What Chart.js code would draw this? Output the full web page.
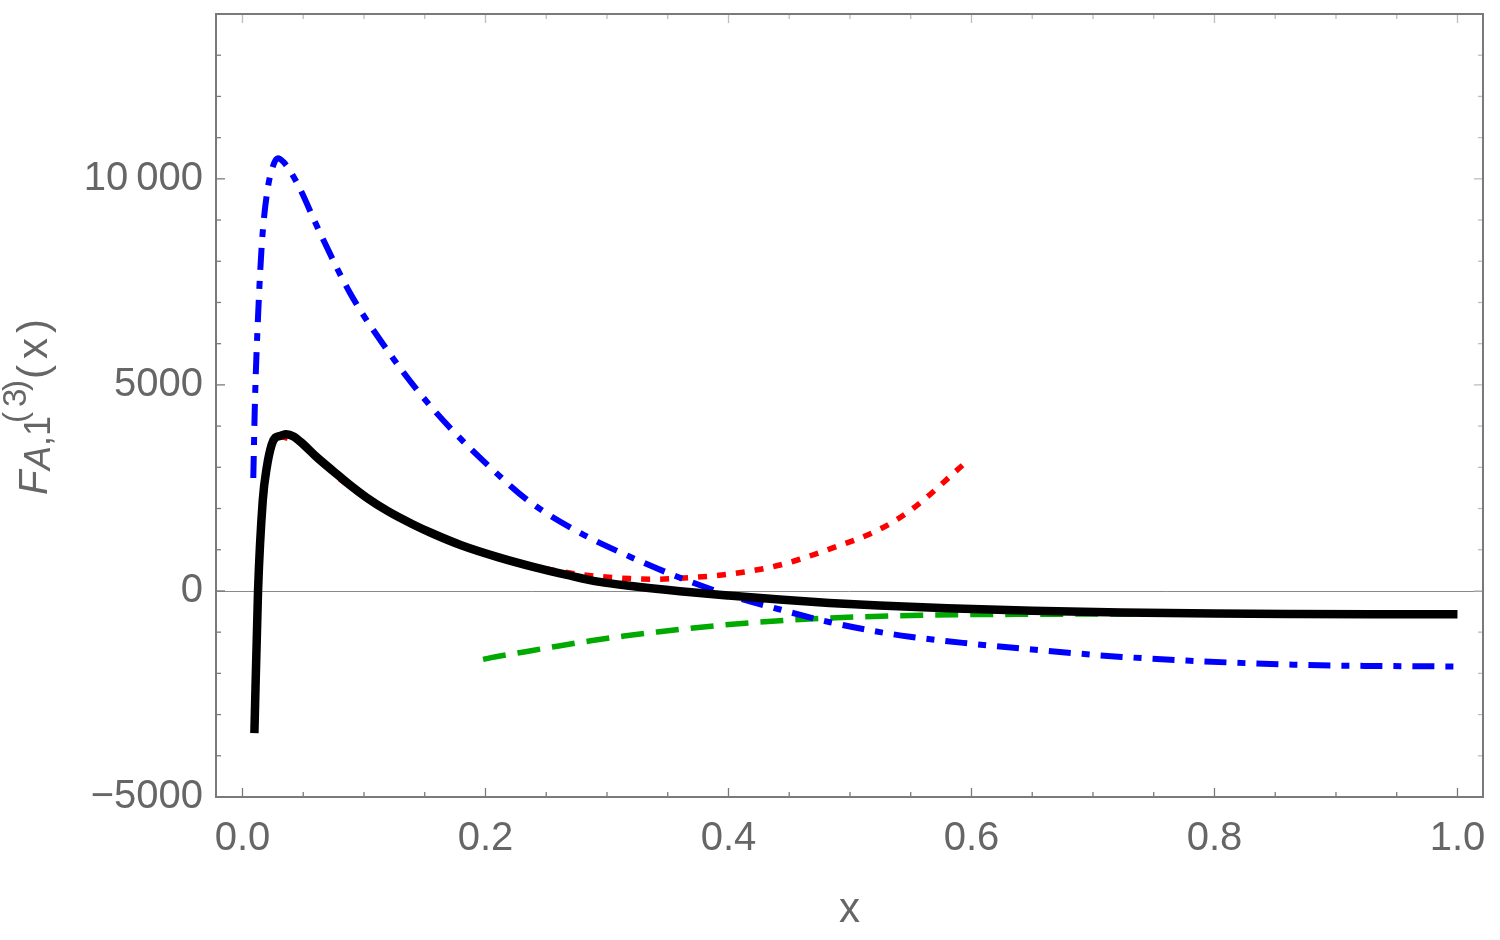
<!DOCTYPE html>
<html><head><meta charset="utf-8">
<script src="https://cdn.jsdelivr.net/npm/chart.js@4.4.1/dist/chart.umd.min.js"></script>
<style>html,body{margin:0;padding:0;background:#fff;}canvas{display:block;}</style>
</head><body>
<canvas id="c" width="1500" height="940"></canvas>
<script>
// ---- tick labels ----
const xTickValues = [0, 0.2, 0.4, 0.6, 0.8, 1.0];
const xTickLabels = ['0.0', '0.2', '0.4', '0.6', '0.8', '1.0'];
const yTickValues = [-5000, 0, 5000, 10000];
const yTickLabels = ['\u22125000', '0', '5000', '10\u2009000'];

// ---- series: black solid ----
const blackX = [0.0098, 0.0128, 0.0167, 0.020, 0.024, 0.027, 0.031, 0.036, 0.042, 0.050, 0.061, 0.075, 0.088, 0.102, 0.120, 0.140, 0.156, 0.180, 0.2115, 0.240, 0.267, 0.294, 0.320, 0.360, 0.400, 0.442, 0.483, 0.524, 0.580, 0.650, 0.723, 0.800, 0.865, 0.930, 1.000];
const blackY = [-3450, 0, 2200, 3000, 3550, 3720, 3760, 3800, 3750, 3560, 3250, 2900, 2580, 2270, 1930, 1620, 1400, 1110, 810, 580, 390, 220, 120, -5, -110, -210, -290, -355, -420, -480, -525, -550, -560, -565, -566];

// ---- series: blue dot-dashed ----
const blueX = [0.0089, 0.0103, 0.0128, 0.016, 0.0202, 0.025, 0.029, 0.034, 0.0449, 0.0638, 0.0885, 0.119, 0.1436, 0.1708, 0.206, 0.2366, 0.2778, 0.319, 0.3601, 0.4012, 0.4424, 0.4835, 0.5247, 0.5494, 0.593, 0.650, 0.7237, 0.8652, 1.000];
const blueY = [2740, 4640, 6650, 8450, 9660, 10300, 10500, 10400, 9900, 8690, 7230, 5850, 4880, 3960, 2940, 2160, 1410, 830, 320, -110, -450, -760, -1000, -1110, -1260, -1420, -1600, -1790, -1835];

// ---- series: red dotted ----
const redX = [0.030, 0.050, 0.080, 0.120, 0.160, 0.200, 0.2366, 0.2778, 0.319, 0.339, 0.3601, 0.4012, 0.4424, 0.4835, 0.5247, 0.5518, 0.593];
const redY = [3760, 3560, 2720, 1930, 1340, 910, 620, 400, 300, 285, 310, 410, 630, 1020, 1500, 2000, 3060];

// ---- series: green dashed ----
const greenX = [0.198, 0.2037, 0.2317, 0.2591, 0.2866, 0.314, 0.3414, 0.3689, 0.3963, 0.4237, 0.4512, 0.478, 0.506, 0.533, 0.561, 0.5878, 0.640, 0.700, 0.800, 0.900, 1.000];
const greenY = [-1660, -1625, -1480, -1340, -1210, -1095, -995, -905, -825, -760, -705, -662, -630, -605, -588, -575, -568, -560, -553, -560, -564];

const pts = (xs, ys) => xs.map((x, i) => ({x, y: ys[i]}));

const FONT = "'Liberation Sans', Arial, Helvetica, sans-serif";
const TEXT = '#666666';

const framePlugin = {
  id: 'frame',
  beforeDatasetsDraw(chart) {
    const {ctx, chartArea: a, scales: {y}} = chart;
    ctx.save();
    ctx.strokeStyle = '#8a8a8a';
    ctx.lineWidth = 1;
    const y0 = Math.round(y.getPixelForValue(0)) + 0.5;
    ctx.beginPath(); ctx.moveTo(a.left, y0); ctx.lineTo(a.right, y0); ctx.stroke();
    ctx.restore();
  },
  afterDatasetsDraw(chart) {
    const {ctx, chartArea: a, scales: {x, y}} = chart;
    ctx.save();
    const tick = (x1, y1, x2, y2, col) => {
      ctx.strokeStyle = col; ctx.lineWidth = 1.3;
      ctx.beginPath(); ctx.moveTo(x1, y1); ctx.lineTo(x2, y2); ctx.stroke();
    };
    for (let k = 0; k <= 20; k++) {
      const px = x.getPixelForValue(k * 0.05);
      const L = (k % 4 === 0) ? 9 : 5;
      tick(px, a.bottom, px, a.bottom - L, '#7a7a7a');
      tick(px, a.top, px, a.top + L, '#bdbdbd');
    }
    for (let k = -5; k <= 14; k++) {
      const py = y.getPixelForValue(k * 1000);
      const L = (k % 5 === 0) ? 9 : 5;
      tick(a.left, py, a.left + L, py, '#7a7a7a');
      tick(a.right, py, a.right - L, py, '#bdbdbd');
    }
    ctx.strokeStyle = '#7a7a7a';
    ctx.lineWidth = 2;
    ctx.strokeRect(a.left, a.top, a.right - a.left, a.bottom - a.top);
    ctx.restore();
  },
  afterDraw(chart) {
    const {ctx, chartArea: a} = chart;
    ctx.save();
    ctx.fillStyle = TEXT;
    ctx.font = `42px ${FONT}`;
    ctx.textAlign = 'center';
    ctx.textBaseline = 'alphabetic';
    ctx.fillText('x', (a.left + a.right) / 2, 922);
    ctx.translate(47, 495);
    ctx.rotate(-Math.PI / 2);
    ctx.textAlign = 'left';
    ctx.font = `italic 40px ${FONT}`;
    ctx.fillText('F', 0, 0);
    ctx.font = `italic 36px ${FONT}`;
    ctx.fillText('A', 25, 3);
    ctx.font = `36px ${FONT}`;
    ctx.fillText(',1', 49, 3);
    ctx.font = `33px ${FONT}`;
    ctx.fillText('(', 72, -21);
    ctx.fillText('3', 88, -21);
    ctx.fillText(')', 104, -21);
    ctx.font = `42px ${FONT}`;
    ctx.fillText('(', 116, 0);
    ctx.fillText('x', 136, 0);
    ctx.fillText(')', 162, 0);
    ctx.restore();
  }
};

const lineDs = (label, xs, ys, color, width, dash) => ({
  label, data: pts(xs, ys), borderColor: color, backgroundColor: color,
  borderWidth: width, borderDash: dash, showLine: true, pointRadius: 0,
  cubicInterpolationMode: 'monotone', borderJoinStyle: 'round', fill: false
});

new Chart(document.getElementById('c'), {
  type: 'scatter',
  data: {
    datasets: [
      lineDs('black', blackX, blackY, '#000000', 8.5, []),
      lineDs('blue', blueX, blueY, '#0000ff', 6, [22, 11, 8, 11]),
      lineDs('green', greenX, greenY, '#00aa00', 5.5, [23, 12]),
      lineDs('red', redX, redY, '#ff0000', 5.5, [9, 10])
    ]
  },
  options: {
    responsive: false,
    animation: false,
    layout: {padding: {left: 0, right: 17, top: 14, bottom: 0}},
    plugins: {legend: {display: false}, tooltip: {enabled: false}, title: {display: false}},
    scales: {
      x: {
        type: 'linear', min: -0.0218, max: 1.021,
        grid: {display: false, drawTicks: false},
        border: {display: false},
        afterBuildTicks: (s) => { s.ticks = xTickValues.map(v => ({value: v})); },
        afterFit: (s) => { s.height = 143; s.paddingLeft = 0; s.paddingRight = 0; },
        ticks: {
          autoSkip: false, maxRotation: 0, padding: 18, color: TEXT,
          font: {family: FONT, size: 40},
          callback: (v) => { const i = xTickValues.findIndex(t => Math.abs(t - v) < 1e-9); return i >= 0 ? xTickLabels[i] : ''; }
        }
      },
      y: {
        type: 'linear', min: -5000, max: 14000,
        grid: {display: false, drawTicks: false},
        border: {display: false},
        afterBuildTicks: (s) => { s.ticks = yTickValues.map(v => ({value: v})); },
        afterFit: (s) => { s.width = 216; s.paddingTop = 0; s.paddingBottom = 0; },
        ticks: {
          autoSkip: false, padding: 13, color: TEXT,
          font: {family: FONT, size: 40},
          callback: (v) => { const i = yTickValues.indexOf(v); return i >= 0 ? yTickLabels[i] : ''; }
        }
      }
    }
  },
  plugins: [framePlugin]
});
</script>
</body></html>
